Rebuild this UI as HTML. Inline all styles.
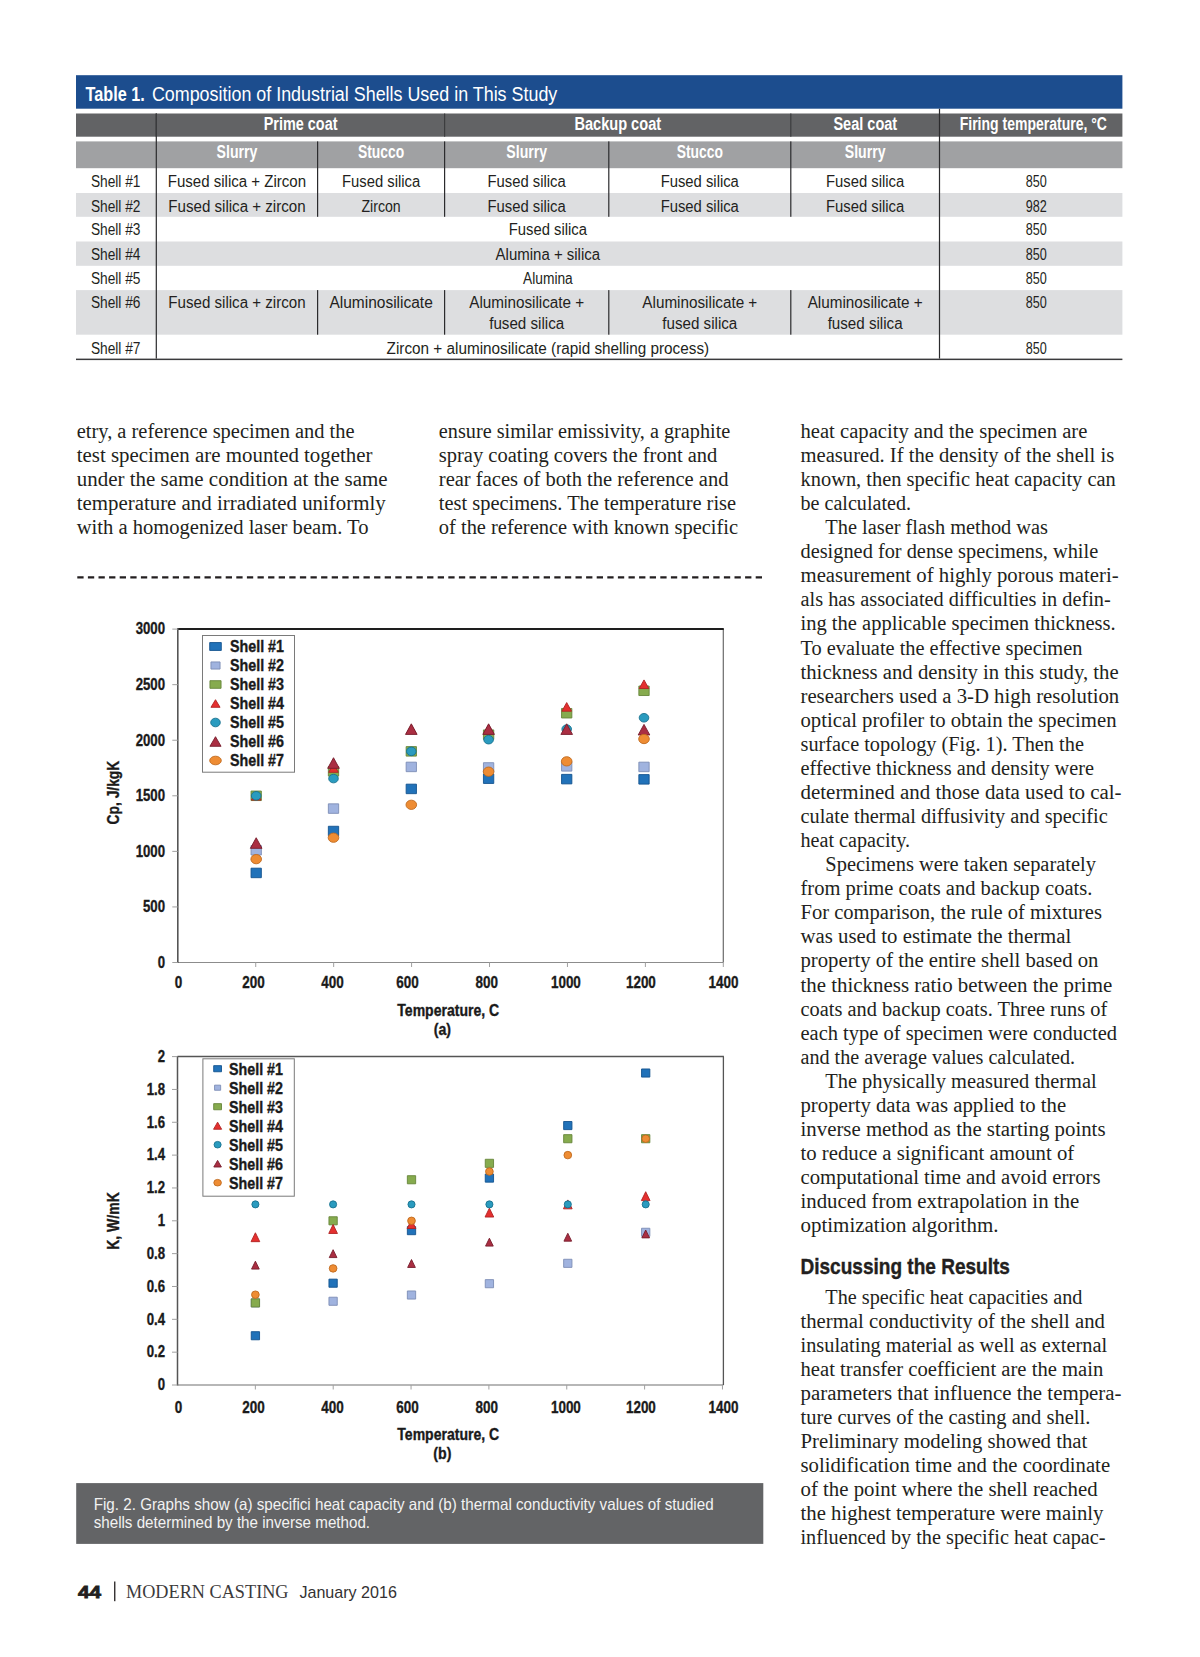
<!DOCTYPE html>
<html><head><meta charset="utf-8"><title>Modern Casting p44</title>
<style>
html,body{margin:0;padding:0;background:#ffffff;}
body{width:1200px;height:1657px;overflow:hidden;}
svg{display:block;}
.se{font-family:"Liberation Serif",serif;}
.sa{font-family:"Liberation Sans",sans-serif;}
.sb{font-family:"Liberation Sans",sans-serif;font-weight:bold;}
</style></head><body>
<svg width="1200" height="1657" viewBox="0 0 1200 1657">
<rect x="0" y="0" width="1200" height="1657" fill="#ffffff"/>
<rect x="76.00" y="75.20" width="1046.40" height="33.50" fill="#1c4d8e"/>
<text class="sb" x="85.60" y="100.80" font-size="20.00" textLength="59.19" lengthAdjust="spacingAndGlyphs" fill="#ffffff">Table 1.</text>
<text class="sa" x="151.90" y="100.80" font-size="20.00" textLength="405.39" lengthAdjust="spacingAndGlyphs" fill="#ffffff">Composition of Industrial Shells Used in This Study</text>
<rect x="76.00" y="113.50" width="1046.40" height="23.20" fill="#626365"/>
<rect x="76.00" y="141.40" width="1046.40" height="26.80" fill="#a0a1a3"/>
<rect x="76.00" y="193.00" width="1046.40" height="23.80" fill="#dddee0"/>
<rect x="76.00" y="241.50" width="1046.40" height="24.30" fill="#dddee0"/>
<rect x="76.00" y="290.10" width="1046.40" height="44.60" fill="#dddee0"/>
<rect x="76.00" y="358.60" width="1046.40" height="1.50" fill="#3a3a3c"/>
<rect x="155.70" y="113.50" width="1.20" height="245.10" fill="#2b2b2d"/>
<rect x="938.90" y="108.70" width="1.20" height="249.90" fill="#2b2b2d"/>
<rect x="444.00" y="113.50" width="1.20" height="23.20" fill="#3c3d3f"/>
<rect x="790.20" y="113.50" width="1.20" height="23.20" fill="#3c3d3f"/>
<rect x="155.70" y="113.50" width="1.20" height="23.20" fill="#3c3d3f"/>
<rect x="317.00" y="141.40" width="1.20" height="75.40" fill="#2b2b2d"/>
<rect x="317.00" y="290.10" width="1.20" height="44.60" fill="#2b2b2d"/>
<rect x="444.00" y="141.40" width="1.20" height="75.40" fill="#2b2b2d"/>
<rect x="444.00" y="290.10" width="1.20" height="44.60" fill="#2b2b2d"/>
<rect x="608.20" y="141.40" width="1.20" height="75.40" fill="#2b2b2d"/>
<rect x="608.20" y="290.10" width="1.20" height="44.60" fill="#2b2b2d"/>
<rect x="790.20" y="141.40" width="1.20" height="75.40" fill="#2b2b2d"/>
<rect x="790.20" y="290.10" width="1.20" height="44.60" fill="#2b2b2d"/>
<text class="sb" x="263.75" y="130.00" font-size="18.00" textLength="73.73" lengthAdjust="spacingAndGlyphs" fill="#ffffff">Prime coat</text>
<text class="sb" x="574.40" y="130.00" font-size="18.00" textLength="86.72" lengthAdjust="spacingAndGlyphs" fill="#ffffff">Backup coat</text>
<text class="sb" x="833.40" y="130.00" font-size="18.00" textLength="63.82" lengthAdjust="spacingAndGlyphs" fill="#ffffff">Seal coat</text>
<text class="sb" x="959.70" y="129.70" font-size="18.00" textLength="147.27" lengthAdjust="spacingAndGlyphs" fill="#ffffff">Firing temperature, °C</text>
<text class="sb" x="216.58" y="157.50" font-size="17.50" textLength="40.75" lengthAdjust="spacingAndGlyphs" fill="#ffffff">Slurry</text>
<text class="sb" x="506.33" y="157.50" font-size="17.50" textLength="40.75" lengthAdjust="spacingAndGlyphs" fill="#ffffff">Slurry</text>
<text class="sb" x="844.77" y="157.50" font-size="17.50" textLength="40.75" lengthAdjust="spacingAndGlyphs" fill="#ffffff">Slurry</text>
<text class="sb" x="357.98" y="157.50" font-size="17.50" textLength="46.24" lengthAdjust="spacingAndGlyphs" fill="#ffffff">Stucco</text>
<text class="sb" x="676.67" y="157.50" font-size="17.50" textLength="46.24" lengthAdjust="spacingAndGlyphs" fill="#ffffff">Stucco</text>
<text class="sa" x="90.90" y="186.70" font-size="16.00" textLength="49.58" lengthAdjust="spacingAndGlyphs" fill="#231f20">Shell #1</text>
<text class="sa" x="90.90" y="211.50" font-size="16.00" textLength="49.58" lengthAdjust="spacingAndGlyphs" fill="#231f20">Shell #2</text>
<text class="sa" x="90.90" y="235.40" font-size="16.00" textLength="49.58" lengthAdjust="spacingAndGlyphs" fill="#231f20">Shell #3</text>
<text class="sa" x="90.90" y="259.60" font-size="16.00" textLength="49.58" lengthAdjust="spacingAndGlyphs" fill="#231f20">Shell #4</text>
<text class="sa" x="90.90" y="284.30" font-size="16.00" textLength="49.58" lengthAdjust="spacingAndGlyphs" fill="#231f20">Shell #5</text>
<text class="sa" x="90.90" y="308.40" font-size="16.00" textLength="49.58" lengthAdjust="spacingAndGlyphs" fill="#231f20">Shell #6</text>
<text class="sa" x="90.90" y="353.70" font-size="16.00" textLength="49.58" lengthAdjust="spacingAndGlyphs" fill="#231f20">Shell #7</text>
<text class="sa" x="167.76" y="186.70" font-size="16.00" textLength="138.35" lengthAdjust="spacingAndGlyphs" fill="#231f20">Fused silica + Zircon</text>
<text class="sa" x="168.31" y="211.50" font-size="16.00" textLength="137.30" lengthAdjust="spacingAndGlyphs" fill="#231f20">Fused silica + zircon</text>
<text class="sa" x="341.96" y="186.70" font-size="16.00" textLength="78.21" lengthAdjust="spacingAndGlyphs" fill="#231f20">Fused silica</text>
<text class="sa" x="361.48" y="211.50" font-size="16.00" textLength="39.22" lengthAdjust="spacingAndGlyphs" fill="#231f20">Zircon</text>
<text class="sa" x="487.56" y="186.70" font-size="16.00" textLength="78.21" lengthAdjust="spacingAndGlyphs" fill="#231f20">Fused silica</text>
<text class="sa" x="487.56" y="211.50" font-size="16.00" textLength="78.21" lengthAdjust="spacingAndGlyphs" fill="#231f20">Fused silica</text>
<text class="sa" x="660.66" y="186.70" font-size="16.00" textLength="78.21" lengthAdjust="spacingAndGlyphs" fill="#231f20">Fused silica</text>
<text class="sa" x="660.66" y="211.50" font-size="16.00" textLength="78.21" lengthAdjust="spacingAndGlyphs" fill="#231f20">Fused silica</text>
<text class="sa" x="826.01" y="186.70" font-size="16.00" textLength="78.21" lengthAdjust="spacingAndGlyphs" fill="#231f20">Fused silica</text>
<text class="sa" x="826.01" y="211.50" font-size="16.00" textLength="78.21" lengthAdjust="spacingAndGlyphs" fill="#231f20">Fused silica</text>
<text class="sa" x="508.76" y="235.40" font-size="16.00" textLength="78.21" lengthAdjust="spacingAndGlyphs" fill="#231f20">Fused silica</text>
<text class="sa" x="495.62" y="259.60" font-size="16.00" textLength="104.49" lengthAdjust="spacingAndGlyphs" fill="#231f20">Alumina + silica</text>
<text class="sa" x="523.01" y="284.30" font-size="16.00" textLength="49.76" lengthAdjust="spacingAndGlyphs" fill="#231f20">Alumina</text>
<text class="sa" x="168.31" y="308.40" font-size="16.00" textLength="137.30" lengthAdjust="spacingAndGlyphs" fill="#231f20">Fused silica + zircon</text>
<text class="sa" x="329.40" y="308.40" font-size="16.00" textLength="103.40" lengthAdjust="spacingAndGlyphs" fill="#231f20">Aluminosilicate</text>
<text class="sa" x="469.25" y="308.40" font-size="16.00" textLength="114.92" lengthAdjust="spacingAndGlyphs" fill="#231f20">Aluminosilicate +</text>
<text class="sa" x="489.18" y="328.50" font-size="16.00" textLength="75.00" lengthAdjust="spacingAndGlyphs" fill="#231f20">fused silica</text>
<text class="sa" x="642.35" y="308.40" font-size="16.00" textLength="114.92" lengthAdjust="spacingAndGlyphs" fill="#231f20">Aluminosilicate +</text>
<text class="sa" x="662.28" y="328.50" font-size="16.00" textLength="75.00" lengthAdjust="spacingAndGlyphs" fill="#231f20">fused silica</text>
<text class="sa" x="807.70" y="308.40" font-size="16.00" textLength="114.92" lengthAdjust="spacingAndGlyphs" fill="#231f20">Aluminosilicate +</text>
<text class="sa" x="827.63" y="328.50" font-size="16.00" textLength="75.00" lengthAdjust="spacingAndGlyphs" fill="#231f20">fused silica</text>
<text class="sa" x="386.60" y="353.70" font-size="16.00" textLength="322.56" lengthAdjust="spacingAndGlyphs" fill="#231f20">Zircon + aluminosilicate (rapid shelling process)</text>
<text class="sa" x="1025.65" y="186.70" font-size="16.00" textLength="21.08" lengthAdjust="spacingAndGlyphs" fill="#231f20">850</text>
<text class="sa" x="1025.65" y="211.50" font-size="16.00" textLength="21.08" lengthAdjust="spacingAndGlyphs" fill="#231f20">982</text>
<text class="sa" x="1025.65" y="235.40" font-size="16.00" textLength="21.08" lengthAdjust="spacingAndGlyphs" fill="#231f20">850</text>
<text class="sa" x="1025.65" y="259.60" font-size="16.00" textLength="21.08" lengthAdjust="spacingAndGlyphs" fill="#231f20">850</text>
<text class="sa" x="1025.65" y="284.30" font-size="16.00" textLength="21.08" lengthAdjust="spacingAndGlyphs" fill="#231f20">850</text>
<text class="sa" x="1025.65" y="308.40" font-size="16.00" textLength="21.08" lengthAdjust="spacingAndGlyphs" fill="#231f20">850</text>
<text class="sa" x="1025.65" y="353.70" font-size="16.00" textLength="21.08" lengthAdjust="spacingAndGlyphs" fill="#231f20">850</text>
<text class="se" x="76.70" y="437.90" font-size="20.50" textLength="277.87" lengthAdjust="spacingAndGlyphs" fill="#231f20">etry, a reference specimen and the</text>
<text class="se" x="76.70" y="461.97" font-size="20.50" textLength="295.83" lengthAdjust="spacingAndGlyphs" fill="#231f20">test specimen are mounted together</text>
<text class="se" x="76.70" y="486.04" font-size="20.50" textLength="310.96" lengthAdjust="spacingAndGlyphs" fill="#231f20">under the same condition at the same</text>
<text class="se" x="76.70" y="510.11" font-size="20.50" textLength="308.98" lengthAdjust="spacingAndGlyphs" fill="#231f20">temperature and irradiated uniformly</text>
<text class="se" x="76.70" y="534.18" font-size="20.50" textLength="291.80" lengthAdjust="spacingAndGlyphs" fill="#231f20">with a homogenized laser beam. To</text>
<text class="se" x="438.80" y="437.90" font-size="20.50" textLength="291.47" lengthAdjust="spacingAndGlyphs" fill="#231f20">ensure similar emissivity, a graphite</text>
<text class="se" x="438.80" y="461.97" font-size="20.50" textLength="278.57" lengthAdjust="spacingAndGlyphs" fill="#231f20">spray coating covers the front and</text>
<text class="se" x="438.80" y="486.04" font-size="20.50" textLength="289.64" lengthAdjust="spacingAndGlyphs" fill="#231f20">rear faces of both the reference and</text>
<text class="se" x="438.80" y="510.11" font-size="20.50" textLength="297.29" lengthAdjust="spacingAndGlyphs" fill="#231f20">test specimens. The temperature rise</text>
<text class="se" x="438.80" y="534.18" font-size="20.50" textLength="299.25" lengthAdjust="spacingAndGlyphs" fill="#231f20">of the reference with known specific</text>
<text class="se" x="800.50" y="437.90" font-size="20.50" textLength="286.88" lengthAdjust="spacingAndGlyphs" fill="#231f20">heat capacity and the specimen are</text>
<text class="se" x="800.50" y="461.97" font-size="20.50" textLength="313.66" lengthAdjust="spacingAndGlyphs" fill="#231f20">measured. If the density of the shell is</text>
<text class="se" x="800.50" y="486.04" font-size="20.50" textLength="315.24" lengthAdjust="spacingAndGlyphs" fill="#231f20">known, then specific heat capacity can</text>
<text class="se" x="800.50" y="510.11" font-size="20.50" textLength="110.53" lengthAdjust="spacingAndGlyphs" fill="#231f20">be calculated.</text>
<text class="se" x="825.30" y="534.18" font-size="20.50" textLength="222.72" lengthAdjust="spacingAndGlyphs" fill="#231f20">The laser flash method was</text>
<text class="se" x="800.50" y="558.25" font-size="20.50" textLength="297.69" lengthAdjust="spacingAndGlyphs" fill="#231f20">designed for dense specimens, while</text>
<text class="se" x="800.50" y="582.32" font-size="20.50" textLength="318.08" lengthAdjust="spacingAndGlyphs" fill="#231f20">measurement of highly porous materi-</text>
<text class="se" x="800.50" y="606.39" font-size="20.50" textLength="310.25" lengthAdjust="spacingAndGlyphs" fill="#231f20">als has associated difficulties in defin-</text>
<text class="se" x="800.50" y="630.46" font-size="20.50" textLength="315.22" lengthAdjust="spacingAndGlyphs" fill="#231f20">ing the applicable specimen thickness.</text>
<text class="se" x="800.50" y="654.53" font-size="20.50" textLength="281.88" lengthAdjust="spacingAndGlyphs" fill="#231f20">To evaluate the effective specimen</text>
<text class="se" x="800.50" y="678.60" font-size="20.50" textLength="318.10" lengthAdjust="spacingAndGlyphs" fill="#231f20">thickness and density in this study, the</text>
<text class="se" x="800.50" y="702.67" font-size="20.50" textLength="318.72" lengthAdjust="spacingAndGlyphs" fill="#231f20">researchers used a 3-D high resolution</text>
<text class="se" x="800.50" y="726.74" font-size="20.50" textLength="316.00" lengthAdjust="spacingAndGlyphs" fill="#231f20">optical profiler to obtain the specimen</text>
<text class="se" x="800.50" y="750.81" font-size="20.50" textLength="283.41" lengthAdjust="spacingAndGlyphs" fill="#231f20">surface topology (Fig. 1). Then the</text>
<text class="se" x="800.50" y="774.88" font-size="20.50" textLength="293.52" lengthAdjust="spacingAndGlyphs" fill="#231f20">effective thickness and density were</text>
<text class="se" x="800.50" y="798.95" font-size="20.50" textLength="321.05" lengthAdjust="spacingAndGlyphs" fill="#231f20">determined and those data used to cal-</text>
<text class="se" x="800.50" y="823.02" font-size="20.50" textLength="307.26" lengthAdjust="spacingAndGlyphs" fill="#231f20">culate thermal diffusivity and specific</text>
<text class="se" x="800.50" y="847.09" font-size="20.50" textLength="109.53" lengthAdjust="spacingAndGlyphs" fill="#231f20">heat capacity.</text>
<text class="se" x="825.30" y="871.16" font-size="20.50" textLength="270.68" lengthAdjust="spacingAndGlyphs" fill="#231f20">Specimens were taken separately</text>
<text class="se" x="800.50" y="895.23" font-size="20.50" textLength="291.84" lengthAdjust="spacingAndGlyphs" fill="#231f20">from prime coats and backup coats.</text>
<text class="se" x="800.50" y="919.30" font-size="20.50" textLength="301.47" lengthAdjust="spacingAndGlyphs" fill="#231f20">For comparison, the rule of mixtures</text>
<text class="se" x="800.50" y="943.37" font-size="20.50" textLength="270.77" lengthAdjust="spacingAndGlyphs" fill="#231f20">was used to estimate the thermal</text>
<text class="se" x="800.50" y="967.44" font-size="20.50" textLength="297.98" lengthAdjust="spacingAndGlyphs" fill="#231f20">property of the entire shell based on</text>
<text class="se" x="800.50" y="991.51" font-size="20.50" textLength="311.73" lengthAdjust="spacingAndGlyphs" fill="#231f20">the thickness ratio between the prime</text>
<text class="se" x="800.50" y="1015.58" font-size="20.50" textLength="306.69" lengthAdjust="spacingAndGlyphs" fill="#231f20">coats and backup coats. Three runs of</text>
<text class="se" x="800.50" y="1039.65" font-size="20.50" textLength="316.59" lengthAdjust="spacingAndGlyphs" fill="#231f20">each type of specimen were conducted</text>
<text class="se" x="800.50" y="1063.72" font-size="20.50" textLength="274.62" lengthAdjust="spacingAndGlyphs" fill="#231f20">and the average values calculated.</text>
<text class="se" x="825.30" y="1087.79" font-size="20.50" textLength="271.41" lengthAdjust="spacingAndGlyphs" fill="#231f20">The physically measured thermal</text>
<text class="se" x="800.50" y="1111.86" font-size="20.50" textLength="265.62" lengthAdjust="spacingAndGlyphs" fill="#231f20">property data was applied to the</text>
<text class="se" x="800.50" y="1135.93" font-size="20.50" textLength="305.02" lengthAdjust="spacingAndGlyphs" fill="#231f20">inverse method as the starting points</text>
<text class="se" x="800.50" y="1160.00" font-size="20.50" textLength="273.70" lengthAdjust="spacingAndGlyphs" fill="#231f20">to reduce a significant amount of</text>
<text class="se" x="800.50" y="1184.07" font-size="20.50" textLength="300.01" lengthAdjust="spacingAndGlyphs" fill="#231f20">computational time and avoid errors</text>
<text class="se" x="800.50" y="1208.14" font-size="20.50" textLength="278.69" lengthAdjust="spacingAndGlyphs" fill="#231f20">induced from extrapolation in the</text>
<text class="se" x="800.50" y="1232.21" font-size="20.50" textLength="197.95" lengthAdjust="spacingAndGlyphs" fill="#231f20">optimization algorithm.</text>
<text class="sb" x="800.50" y="1274.40" font-size="22.00" textLength="209.47" lengthAdjust="spacingAndGlyphs" fill="#231f20" stroke="#231f20" stroke-width="0.4">Discussing the Results</text>
<text class="se" x="825.30" y="1303.50" font-size="20.50" textLength="257.10" lengthAdjust="spacingAndGlyphs" fill="#231f20">The specific heat capacities and</text>
<text class="se" x="800.50" y="1327.57" font-size="20.50" textLength="304.40" lengthAdjust="spacingAndGlyphs" fill="#231f20">thermal conductivity of the shell and</text>
<text class="se" x="800.50" y="1351.64" font-size="20.50" textLength="306.65" lengthAdjust="spacingAndGlyphs" fill="#231f20">insulating material as well as external</text>
<text class="se" x="800.50" y="1375.71" font-size="20.50" textLength="302.85" lengthAdjust="spacingAndGlyphs" fill="#231f20">heat transfer coefficient are the main</text>
<text class="se" x="800.50" y="1399.78" font-size="20.50" textLength="321.01" lengthAdjust="spacingAndGlyphs" fill="#231f20">parameters that influence the tempera-</text>
<text class="se" x="800.50" y="1423.85" font-size="20.50" textLength="289.78" lengthAdjust="spacingAndGlyphs" fill="#231f20">ture curves of the casting and shell.</text>
<text class="se" x="800.50" y="1447.92" font-size="20.50" textLength="286.86" lengthAdjust="spacingAndGlyphs" fill="#231f20">Preliminary modeling showed that</text>
<text class="se" x="800.50" y="1471.99" font-size="20.50" textLength="309.59" lengthAdjust="spacingAndGlyphs" fill="#231f20">solidification time and the coordinate</text>
<text class="se" x="800.50" y="1496.06" font-size="20.50" textLength="297.14" lengthAdjust="spacingAndGlyphs" fill="#231f20">of the point where the shell reached</text>
<text class="se" x="800.50" y="1520.13" font-size="20.50" textLength="302.90" lengthAdjust="spacingAndGlyphs" fill="#231f20">the highest temperature were mainly</text>
<text class="se" x="800.50" y="1544.20" font-size="20.50" textLength="305.00" lengthAdjust="spacingAndGlyphs" fill="#231f20">influenced by the specific heat capac-</text>
<line x1="77.3" y1="577.4" x2="763" y2="577.4" stroke="#231f20" stroke-width="2.3" stroke-dasharray="6.3 4.3"/>
<rect x="177.80" y="629.10" width="545.50" height="333.40" fill="#ffffff"/>
<line x1="177.80" y1="962.50" x2="723.30" y2="962.50" stroke="#8c8c8c" stroke-width="1.20"/>
<line x1="723.30" y1="629.10" x2="723.30" y2="962.50" stroke="#6a6a6a" stroke-width="1.20"/>
<line x1="177.80" y1="629.10" x2="723.80" y2="629.10" stroke="#1e1e1e" stroke-width="2.00"/>
<line x1="177.80" y1="628.10" x2="177.80" y2="963.00" stroke="#555555" stroke-width="1.60"/>
<line x1="172.30" y1="962.50" x2="177.80" y2="962.50" stroke="#a0a0a0" stroke-width="1.00"/>
<text class="sb" x="157.67" y="967.80" font-size="16.50" textLength="7.34" lengthAdjust="spacingAndGlyphs" fill="#1a1a1a" stroke="#1a1a1a" stroke-width="0.35">0</text>
<line x1="172.30" y1="906.93" x2="177.80" y2="906.93" stroke="#a0a0a0" stroke-width="1.00"/>
<text class="sb" x="142.96" y="912.23" font-size="16.50" textLength="22.02" lengthAdjust="spacingAndGlyphs" fill="#1a1a1a" stroke="#1a1a1a" stroke-width="0.35">500</text>
<line x1="172.30" y1="851.37" x2="177.80" y2="851.37" stroke="#a0a0a0" stroke-width="1.00"/>
<text class="sb" x="135.63" y="856.67" font-size="16.50" textLength="29.37" lengthAdjust="spacingAndGlyphs" fill="#1a1a1a" stroke="#1a1a1a" stroke-width="0.35">1000</text>
<line x1="172.30" y1="795.80" x2="177.80" y2="795.80" stroke="#a0a0a0" stroke-width="1.00"/>
<text class="sb" x="135.63" y="801.10" font-size="16.50" textLength="29.37" lengthAdjust="spacingAndGlyphs" fill="#1a1a1a" stroke="#1a1a1a" stroke-width="0.35">1500</text>
<line x1="172.30" y1="740.23" x2="177.80" y2="740.23" stroke="#a0a0a0" stroke-width="1.00"/>
<text class="sb" x="135.63" y="745.53" font-size="16.50" textLength="29.37" lengthAdjust="spacingAndGlyphs" fill="#1a1a1a" stroke="#1a1a1a" stroke-width="0.35">2000</text>
<line x1="172.30" y1="684.67" x2="177.80" y2="684.67" stroke="#a0a0a0" stroke-width="1.00"/>
<text class="sb" x="135.63" y="689.97" font-size="16.50" textLength="29.37" lengthAdjust="spacingAndGlyphs" fill="#1a1a1a" stroke="#1a1a1a" stroke-width="0.35">2500</text>
<line x1="172.30" y1="629.10" x2="177.80" y2="629.10" stroke="#a0a0a0" stroke-width="1.00"/>
<text class="sb" x="135.63" y="634.40" font-size="16.50" textLength="29.37" lengthAdjust="spacingAndGlyphs" fill="#1a1a1a" stroke="#1a1a1a" stroke-width="0.35">3000</text>
<text class="sb" x="174.77" y="987.50" font-size="16.50" textLength="7.48" lengthAdjust="spacingAndGlyphs" fill="#1a1a1a" stroke="#1a1a1a" stroke-width="0.35">0</text>
<line x1="255.73" y1="962.50" x2="255.73" y2="967.00" stroke="#a0a0a0" stroke-width="1.00"/>
<text class="sb" x="242.27" y="987.50" font-size="16.50" textLength="22.44" lengthAdjust="spacingAndGlyphs" fill="#1a1a1a" stroke="#1a1a1a" stroke-width="0.35">200</text>
<line x1="333.66" y1="962.50" x2="333.66" y2="967.00" stroke="#a0a0a0" stroke-width="1.00"/>
<text class="sb" x="321.37" y="987.50" font-size="16.50" textLength="22.44" lengthAdjust="spacingAndGlyphs" fill="#1a1a1a" stroke="#1a1a1a" stroke-width="0.35">400</text>
<line x1="411.59" y1="962.50" x2="411.59" y2="967.00" stroke="#a0a0a0" stroke-width="1.00"/>
<text class="sb" x="396.27" y="987.50" font-size="16.50" textLength="22.44" lengthAdjust="spacingAndGlyphs" fill="#1a1a1a" stroke="#1a1a1a" stroke-width="0.35">600</text>
<line x1="489.52" y1="962.50" x2="489.52" y2="967.00" stroke="#a0a0a0" stroke-width="1.00"/>
<text class="sb" x="475.52" y="987.50" font-size="16.50" textLength="22.44" lengthAdjust="spacingAndGlyphs" fill="#1a1a1a" stroke="#1a1a1a" stroke-width="0.35">800</text>
<line x1="567.45" y1="962.50" x2="567.45" y2="967.00" stroke="#a0a0a0" stroke-width="1.00"/>
<text class="sb" x="550.94" y="987.50" font-size="16.50" textLength="29.92" lengthAdjust="spacingAndGlyphs" fill="#1a1a1a" stroke="#1a1a1a" stroke-width="0.35">1000</text>
<line x1="645.38" y1="962.50" x2="645.38" y2="967.00" stroke="#a0a0a0" stroke-width="1.00"/>
<text class="sb" x="625.94" y="987.50" font-size="16.50" textLength="29.92" lengthAdjust="spacingAndGlyphs" fill="#1a1a1a" stroke="#1a1a1a" stroke-width="0.35">1200</text>
<line x1="723.31" y1="962.50" x2="723.31" y2="967.00" stroke="#a0a0a0" stroke-width="1.00"/>
<text class="sb" x="708.54" y="987.50" font-size="16.50" textLength="29.92" lengthAdjust="spacingAndGlyphs" fill="#1a1a1a" stroke="#1a1a1a" stroke-width="0.35">1400</text>
<text class="sb" x="397.30" y="1015.90" font-size="16.00" textLength="101.92" lengthAdjust="spacingAndGlyphs" fill="#1a1a1a" stroke="#1a1a1a" stroke-width="0.35">Temperature, C</text>
<text class="sb" x="433.74" y="1035.10" font-size="16.50" textLength="17.34" lengthAdjust="spacingAndGlyphs" fill="#1a1a1a" stroke="#1a1a1a" stroke-width="0.35">(a)</text>
<text class="sb" transform="translate(118.90 824.40) rotate(-90)" x="-0.00" y="0" font-size="16" textLength="63.63" lengthAdjust="spacingAndGlyphs" fill="#1a1a1a" stroke="#1a1a1a" stroke-width="0.35">Cp, J/kgK</text>
<rect x="251.05" y="868.18" width="10.30" height="9.50" fill="#2172b9" stroke="#14548f" stroke-width="0.90" stroke-linejoin="round"/>
<rect x="328.35" y="826.28" width="10.30" height="9.50" fill="#2172b9" stroke="#14548f" stroke-width="0.90" stroke-linejoin="round"/>
<rect x="406.15" y="784.16" width="10.30" height="9.50" fill="#2172b9" stroke="#14548f" stroke-width="0.90" stroke-linejoin="round"/>
<rect x="483.45" y="773.94" width="10.30" height="9.50" fill="#2172b9" stroke="#14548f" stroke-width="0.90" stroke-linejoin="round"/>
<rect x="561.55" y="774.38" width="10.30" height="9.50" fill="#2172b9" stroke="#14548f" stroke-width="0.90" stroke-linejoin="round"/>
<rect x="638.85" y="774.60" width="10.30" height="9.50" fill="#2172b9" stroke="#14548f" stroke-width="0.90" stroke-linejoin="round"/>
<rect x="251.05" y="845.51" width="10.30" height="9.50" fill="#a0b3df" stroke="#7d8db6" stroke-width="0.90" stroke-linejoin="round"/>
<rect x="328.35" y="803.83" width="10.30" height="9.50" fill="#a0b3df" stroke="#7d8db6" stroke-width="0.90" stroke-linejoin="round"/>
<rect x="406.15" y="762.16" width="10.30" height="9.50" fill="#a0b3df" stroke="#7d8db6" stroke-width="0.90" stroke-linejoin="round"/>
<rect x="483.45" y="762.71" width="10.30" height="9.50" fill="#a0b3df" stroke="#7d8db6" stroke-width="0.90" stroke-linejoin="round"/>
<rect x="561.55" y="761.60" width="10.30" height="9.50" fill="#a0b3df" stroke="#7d8db6" stroke-width="0.90" stroke-linejoin="round"/>
<rect x="638.85" y="762.16" width="10.30" height="9.50" fill="#a0b3df" stroke="#7d8db6" stroke-width="0.90" stroke-linejoin="round"/>
<rect x="251.05" y="791.05" width="10.30" height="9.50" fill="#86ab4e" stroke="#66863a" stroke-width="0.90" stroke-linejoin="round"/>
<rect x="328.35" y="766.60" width="10.30" height="9.50" fill="#86ab4e" stroke="#66863a" stroke-width="0.90" stroke-linejoin="round"/>
<rect x="406.15" y="746.60" width="10.30" height="9.50" fill="#86ab4e" stroke="#66863a" stroke-width="0.90" stroke-linejoin="round"/>
<rect x="483.45" y="729.93" width="10.30" height="9.50" fill="#86ab4e" stroke="#66863a" stroke-width="0.90" stroke-linejoin="round"/>
<rect x="561.55" y="708.48" width="10.30" height="9.50" fill="#86ab4e" stroke="#66863a" stroke-width="0.90" stroke-linejoin="round"/>
<rect x="638.85" y="686.03" width="10.30" height="9.50" fill="#86ab4e" stroke="#66863a" stroke-width="0.90" stroke-linejoin="round"/>
<polygon points="256.20,791.50 261.00,800.10 251.40,800.10" fill="#e4302f" stroke="#b02222" stroke-width="0.90" stroke-linejoin="round"/>
<polygon points="333.50,763.72 338.30,772.32 328.70,772.32" fill="#e4302f" stroke="#b02222" stroke-width="0.90" stroke-linejoin="round"/>
<polygon points="411.30,724.82 416.10,733.42 406.50,733.42" fill="#e4302f" stroke="#b02222" stroke-width="0.90" stroke-linejoin="round"/>
<polygon points="488.60,724.82 493.40,733.42 483.80,733.42" fill="#e4302f" stroke="#b02222" stroke-width="0.90" stroke-linejoin="round"/>
<polygon points="566.70,702.59 571.50,711.19 561.90,711.19" fill="#e4302f" stroke="#b02222" stroke-width="0.90" stroke-linejoin="round"/>
<polygon points="644.00,679.92 648.80,688.52 639.20,688.52" fill="#e4302f" stroke="#b02222" stroke-width="0.90" stroke-linejoin="round"/>
<ellipse cx="256.20" cy="795.80" rx="4.80" ry="4.30" fill="#2a9bbf" stroke="#18728f" stroke-width="0.90" stroke-linejoin="round"/>
<ellipse cx="333.50" cy="778.57" rx="4.80" ry="4.30" fill="#2a9bbf" stroke="#18728f" stroke-width="0.90" stroke-linejoin="round"/>
<ellipse cx="411.30" cy="751.35" rx="4.80" ry="4.30" fill="#2a9bbf" stroke="#18728f" stroke-width="0.90" stroke-linejoin="round"/>
<ellipse cx="488.60" cy="739.68" rx="4.80" ry="4.30" fill="#2a9bbf" stroke="#18728f" stroke-width="0.90" stroke-linejoin="round"/>
<ellipse cx="566.70" cy="729.12" rx="4.80" ry="4.30" fill="#2a9bbf" stroke="#18728f" stroke-width="0.90" stroke-linejoin="round"/>
<ellipse cx="644.00" cy="717.78" rx="4.80" ry="4.30" fill="#2a9bbf" stroke="#18728f" stroke-width="0.90" stroke-linejoin="round"/>
<polygon points="256.20,837.73 262.00,848.33 250.40,848.33" fill="#aa2e42" stroke="#761c2b" stroke-width="0.90" stroke-linejoin="round"/>
<polygon points="333.50,757.72 339.30,768.32 327.70,768.32" fill="#aa2e42" stroke="#761c2b" stroke-width="0.90" stroke-linejoin="round"/>
<polygon points="411.30,723.82 417.10,734.42 405.50,734.42" fill="#aa2e42" stroke="#761c2b" stroke-width="0.90" stroke-linejoin="round"/>
<polygon points="488.60,723.82 494.40,734.42 482.80,734.42" fill="#aa2e42" stroke="#761c2b" stroke-width="0.90" stroke-linejoin="round"/>
<polygon points="566.70,723.82 572.50,734.42 560.90,734.42" fill="#aa2e42" stroke="#761c2b" stroke-width="0.90" stroke-linejoin="round"/>
<polygon points="644.00,724.38 649.80,734.98 638.20,734.98" fill="#aa2e42" stroke="#761c2b" stroke-width="0.90" stroke-linejoin="round"/>
<ellipse cx="256.20" cy="859.15" rx="5.30" ry="4.65" fill="#ee8c33" stroke="#c06a1e" stroke-width="0.90" stroke-linejoin="round"/>
<ellipse cx="333.50" cy="837.70" rx="5.30" ry="4.65" fill="#ee8c33" stroke="#c06a1e" stroke-width="0.90" stroke-linejoin="round"/>
<ellipse cx="411.30" cy="804.80" rx="5.30" ry="4.65" fill="#ee8c33" stroke="#c06a1e" stroke-width="0.90" stroke-linejoin="round"/>
<ellipse cx="488.60" cy="771.68" rx="5.30" ry="4.65" fill="#ee8c33" stroke="#c06a1e" stroke-width="0.90" stroke-linejoin="round"/>
<ellipse cx="566.70" cy="761.35" rx="5.30" ry="4.65" fill="#ee8c33" stroke="#c06a1e" stroke-width="0.90" stroke-linejoin="round"/>
<ellipse cx="644.00" cy="739.01" rx="5.30" ry="4.65" fill="#ee8c33" stroke="#c06a1e" stroke-width="0.90" stroke-linejoin="round"/>
<rect x="202.50" y="635.50" width="92.00" height="136.70" fill="#ffffff" stroke="#7a7a7a" stroke-width="1"/>
<rect x="209.70" y="642.55" width="11.60" height="7.90" fill="#2172b9" stroke="#14548f" stroke-width="0.90" stroke-linejoin="round"/>
<text class="sb" x="230.00" y="652.30" font-size="16.00" textLength="54.00" lengthAdjust="spacingAndGlyphs" fill="#1a1a1a" stroke="#1a1a1a" stroke-width="0.35">Shell #1</text>
<rect x="210.95" y="661.95" width="9.10" height="7.10" fill="#a0b3df" stroke="#7d8db6" stroke-width="0.90" stroke-linejoin="round"/>
<text class="sb" x="230.00" y="671.30" font-size="16.00" textLength="54.00" lengthAdjust="spacingAndGlyphs" fill="#1a1a1a" stroke="#1a1a1a" stroke-width="0.35">Shell #2</text>
<rect x="209.95" y="680.70" width="11.10" height="7.60" fill="#86ab4e" stroke="#66863a" stroke-width="0.90" stroke-linejoin="round"/>
<text class="sb" x="230.00" y="690.30" font-size="16.00" textLength="54.00" lengthAdjust="spacingAndGlyphs" fill="#1a1a1a" stroke="#1a1a1a" stroke-width="0.35">Shell #3</text>
<polygon points="215.50,699.70 220.05,707.30 210.95,707.30" fill="#e4302f" stroke="#b02222" stroke-width="0.90" stroke-linejoin="round"/>
<text class="sb" x="230.00" y="709.30" font-size="16.00" textLength="54.00" lengthAdjust="spacingAndGlyphs" fill="#1a1a1a" stroke="#1a1a1a" stroke-width="0.35">Shell #4</text>
<ellipse cx="215.50" cy="722.50" rx="4.80" ry="4.30" fill="#2a9bbf" stroke="#18728f" stroke-width="0.90" stroke-linejoin="round"/>
<text class="sb" x="230.00" y="728.30" font-size="16.00" textLength="54.00" lengthAdjust="spacingAndGlyphs" fill="#1a1a1a" stroke="#1a1a1a" stroke-width="0.35">Shell #5</text>
<polygon points="215.50,736.70 221.05,746.30 209.95,746.30" fill="#aa2e42" stroke="#761c2b" stroke-width="0.90" stroke-linejoin="round"/>
<text class="sb" x="230.00" y="747.30" font-size="16.00" textLength="54.00" lengthAdjust="spacingAndGlyphs" fill="#1a1a1a" stroke="#1a1a1a" stroke-width="0.35">Shell #6</text>
<ellipse cx="215.50" cy="760.50" rx="5.80" ry="4.30" fill="#ee8c33" stroke="#c06a1e" stroke-width="0.90" stroke-linejoin="round"/>
<text class="sb" x="230.00" y="766.30" font-size="16.00" textLength="54.00" lengthAdjust="spacingAndGlyphs" fill="#1a1a1a" stroke="#1a1a1a" stroke-width="0.35">Shell #7</text>
<rect x="177.50" y="1056.60" width="545.90" height="328.40" fill="#ffffff"/>
<line x1="177.50" y1="1385.00" x2="723.40" y2="1385.00" stroke="#707070" stroke-width="1.20"/>
<line x1="723.40" y1="1056.60" x2="723.40" y2="1385.00" stroke="#555555" stroke-width="1.30"/>
<line x1="177.50" y1="1056.60" x2="723.90" y2="1056.60" stroke="#555555" stroke-width="1.50"/>
<line x1="177.50" y1="1056.10" x2="177.50" y2="1385.50" stroke="#555555" stroke-width="1.50"/>
<line x1="172.00" y1="1385.00" x2="177.50" y2="1385.00" stroke="#a0a0a0" stroke-width="1.00"/>
<text class="sb" x="157.67" y="1390.30" font-size="16.50" textLength="7.34" lengthAdjust="spacingAndGlyphs" fill="#1a1a1a" stroke="#1a1a1a" stroke-width="0.35">0</text>
<line x1="172.00" y1="1352.16" x2="177.50" y2="1352.16" stroke="#a0a0a0" stroke-width="1.00"/>
<text class="sb" x="146.65" y="1357.46" font-size="16.50" textLength="18.35" lengthAdjust="spacingAndGlyphs" fill="#1a1a1a" stroke="#1a1a1a" stroke-width="0.35">0.2</text>
<line x1="172.00" y1="1319.32" x2="177.50" y2="1319.32" stroke="#a0a0a0" stroke-width="1.00"/>
<text class="sb" x="146.65" y="1324.62" font-size="16.50" textLength="18.35" lengthAdjust="spacingAndGlyphs" fill="#1a1a1a" stroke="#1a1a1a" stroke-width="0.35">0.4</text>
<line x1="172.00" y1="1286.48" x2="177.50" y2="1286.48" stroke="#a0a0a0" stroke-width="1.00"/>
<text class="sb" x="146.65" y="1291.78" font-size="16.50" textLength="18.35" lengthAdjust="spacingAndGlyphs" fill="#1a1a1a" stroke="#1a1a1a" stroke-width="0.35">0.6</text>
<line x1="172.00" y1="1253.64" x2="177.50" y2="1253.64" stroke="#a0a0a0" stroke-width="1.00"/>
<text class="sb" x="146.65" y="1258.94" font-size="16.50" textLength="18.35" lengthAdjust="spacingAndGlyphs" fill="#1a1a1a" stroke="#1a1a1a" stroke-width="0.35">0.8</text>
<line x1="172.00" y1="1220.80" x2="177.50" y2="1220.80" stroke="#a0a0a0" stroke-width="1.00"/>
<text class="sb" x="157.67" y="1226.10" font-size="16.50" textLength="7.34" lengthAdjust="spacingAndGlyphs" fill="#1a1a1a" stroke="#1a1a1a" stroke-width="0.35">1</text>
<line x1="172.00" y1="1187.96" x2="177.50" y2="1187.96" stroke="#a0a0a0" stroke-width="1.00"/>
<text class="sb" x="146.65" y="1193.26" font-size="16.50" textLength="18.35" lengthAdjust="spacingAndGlyphs" fill="#1a1a1a" stroke="#1a1a1a" stroke-width="0.35">1.2</text>
<line x1="172.00" y1="1155.12" x2="177.50" y2="1155.12" stroke="#a0a0a0" stroke-width="1.00"/>
<text class="sb" x="146.65" y="1160.42" font-size="16.50" textLength="18.35" lengthAdjust="spacingAndGlyphs" fill="#1a1a1a" stroke="#1a1a1a" stroke-width="0.35">1.4</text>
<line x1="172.00" y1="1122.28" x2="177.50" y2="1122.28" stroke="#a0a0a0" stroke-width="1.00"/>
<text class="sb" x="146.65" y="1127.58" font-size="16.50" textLength="18.35" lengthAdjust="spacingAndGlyphs" fill="#1a1a1a" stroke="#1a1a1a" stroke-width="0.35">1.6</text>
<line x1="172.00" y1="1089.44" x2="177.50" y2="1089.44" stroke="#a0a0a0" stroke-width="1.00"/>
<text class="sb" x="146.65" y="1094.74" font-size="16.50" textLength="18.35" lengthAdjust="spacingAndGlyphs" fill="#1a1a1a" stroke="#1a1a1a" stroke-width="0.35">1.8</text>
<line x1="172.00" y1="1056.60" x2="177.50" y2="1056.60" stroke="#a0a0a0" stroke-width="1.00"/>
<text class="sb" x="157.67" y="1061.90" font-size="16.50" textLength="7.34" lengthAdjust="spacingAndGlyphs" fill="#1a1a1a" stroke="#1a1a1a" stroke-width="0.35">2</text>
<text class="sb" x="174.77" y="1412.50" font-size="16.50" textLength="7.48" lengthAdjust="spacingAndGlyphs" fill="#1a1a1a" stroke="#1a1a1a" stroke-width="0.35">0</text>
<line x1="255.35" y1="1385.00" x2="255.35" y2="1389.50" stroke="#a0a0a0" stroke-width="1.00"/>
<text class="sb" x="242.27" y="1412.50" font-size="16.50" textLength="22.44" lengthAdjust="spacingAndGlyphs" fill="#1a1a1a" stroke="#1a1a1a" stroke-width="0.35">200</text>
<line x1="333.20" y1="1385.00" x2="333.20" y2="1389.50" stroke="#a0a0a0" stroke-width="1.00"/>
<text class="sb" x="321.37" y="1412.50" font-size="16.50" textLength="22.44" lengthAdjust="spacingAndGlyphs" fill="#1a1a1a" stroke="#1a1a1a" stroke-width="0.35">400</text>
<line x1="411.05" y1="1385.00" x2="411.05" y2="1389.50" stroke="#a0a0a0" stroke-width="1.00"/>
<text class="sb" x="396.27" y="1412.50" font-size="16.50" textLength="22.44" lengthAdjust="spacingAndGlyphs" fill="#1a1a1a" stroke="#1a1a1a" stroke-width="0.35">600</text>
<line x1="488.90" y1="1385.00" x2="488.90" y2="1389.50" stroke="#a0a0a0" stroke-width="1.00"/>
<text class="sb" x="475.52" y="1412.50" font-size="16.50" textLength="22.44" lengthAdjust="spacingAndGlyphs" fill="#1a1a1a" stroke="#1a1a1a" stroke-width="0.35">800</text>
<line x1="566.75" y1="1385.00" x2="566.75" y2="1389.50" stroke="#a0a0a0" stroke-width="1.00"/>
<text class="sb" x="550.94" y="1412.50" font-size="16.50" textLength="29.92" lengthAdjust="spacingAndGlyphs" fill="#1a1a1a" stroke="#1a1a1a" stroke-width="0.35">1000</text>
<line x1="644.60" y1="1385.00" x2="644.60" y2="1389.50" stroke="#a0a0a0" stroke-width="1.00"/>
<text class="sb" x="625.94" y="1412.50" font-size="16.50" textLength="29.92" lengthAdjust="spacingAndGlyphs" fill="#1a1a1a" stroke="#1a1a1a" stroke-width="0.35">1200</text>
<line x1="722.45" y1="1385.00" x2="722.45" y2="1389.50" stroke="#a0a0a0" stroke-width="1.00"/>
<text class="sb" x="708.54" y="1412.50" font-size="16.50" textLength="29.92" lengthAdjust="spacingAndGlyphs" fill="#1a1a1a" stroke="#1a1a1a" stroke-width="0.35">1400</text>
<text class="sb" x="397.30" y="1439.70" font-size="16.00" textLength="101.92" lengthAdjust="spacingAndGlyphs" fill="#1a1a1a" stroke="#1a1a1a" stroke-width="0.35">Temperature, C</text>
<text class="sb" x="433.35" y="1458.90" font-size="16.50" textLength="18.12" lengthAdjust="spacingAndGlyphs" fill="#1a1a1a" stroke="#1a1a1a" stroke-width="0.35">(b)</text>
<text class="sb" transform="translate(118.90 1249.75) rotate(-90)" x="-0.00" y="0" font-size="16" textLength="57.51" lengthAdjust="spacingAndGlyphs" fill="#1a1a1a" stroke="#1a1a1a" stroke-width="0.35">K, W/mK</text>
<rect x="251.25" y="1331.69" width="8.30" height="8.10" fill="#2172b9" stroke="#14548f" stroke-width="0.90" stroke-linejoin="round"/>
<rect x="328.95" y="1279.15" width="8.30" height="8.10" fill="#2172b9" stroke="#14548f" stroke-width="0.90" stroke-linejoin="round"/>
<rect x="407.35" y="1226.60" width="8.30" height="8.10" fill="#2172b9" stroke="#14548f" stroke-width="0.90" stroke-linejoin="round"/>
<rect x="485.25" y="1174.06" width="8.30" height="8.10" fill="#2172b9" stroke="#14548f" stroke-width="0.90" stroke-linejoin="round"/>
<rect x="563.65" y="1121.51" width="8.30" height="8.10" fill="#2172b9" stroke="#14548f" stroke-width="0.90" stroke-linejoin="round"/>
<rect x="641.55" y="1068.97" width="8.30" height="8.10" fill="#2172b9" stroke="#14548f" stroke-width="0.90" stroke-linejoin="round"/>
<rect x="251.25" y="1298.85" width="8.30" height="8.10" fill="#a0b3df" stroke="#7d8db6" stroke-width="0.90" stroke-linejoin="round"/>
<rect x="328.95" y="1297.21" width="8.30" height="8.10" fill="#a0b3df" stroke="#7d8db6" stroke-width="0.90" stroke-linejoin="round"/>
<rect x="407.35" y="1290.97" width="8.30" height="8.10" fill="#a0b3df" stroke="#7d8db6" stroke-width="0.90" stroke-linejoin="round"/>
<rect x="485.25" y="1279.64" width="8.30" height="8.10" fill="#a0b3df" stroke="#7d8db6" stroke-width="0.90" stroke-linejoin="round"/>
<rect x="563.65" y="1259.28" width="8.30" height="8.10" fill="#a0b3df" stroke="#7d8db6" stroke-width="0.90" stroke-linejoin="round"/>
<rect x="641.55" y="1228.24" width="8.30" height="8.10" fill="#a0b3df" stroke="#7d8db6" stroke-width="0.90" stroke-linejoin="round"/>
<rect x="251.25" y="1298.85" width="8.30" height="8.10" fill="#86ab4e" stroke="#66863a" stroke-width="0.90" stroke-linejoin="round"/>
<rect x="328.95" y="1216.75" width="8.30" height="8.10" fill="#86ab4e" stroke="#66863a" stroke-width="0.90" stroke-linejoin="round"/>
<rect x="407.35" y="1175.70" width="8.30" height="8.10" fill="#86ab4e" stroke="#66863a" stroke-width="0.90" stroke-linejoin="round"/>
<rect x="485.25" y="1159.28" width="8.30" height="8.10" fill="#86ab4e" stroke="#66863a" stroke-width="0.90" stroke-linejoin="round"/>
<rect x="563.65" y="1134.65" width="8.30" height="8.10" fill="#86ab4e" stroke="#66863a" stroke-width="0.90" stroke-linejoin="round"/>
<rect x="641.55" y="1134.65" width="8.30" height="8.10" fill="#86ab4e" stroke="#66863a" stroke-width="0.90" stroke-linejoin="round"/>
<polygon points="255.40,1232.77 259.75,1241.67 251.05,1241.67" fill="#e4302f" stroke="#b02222" stroke-width="0.90" stroke-linejoin="round"/>
<polygon points="333.10,1224.56 337.45,1233.46 328.75,1233.46" fill="#e4302f" stroke="#b02222" stroke-width="0.90" stroke-linejoin="round"/>
<polygon points="411.50,1219.63 415.85,1228.53 407.15,1228.53" fill="#e4302f" stroke="#b02222" stroke-width="0.90" stroke-linejoin="round"/>
<polygon points="489.40,1208.14 493.75,1217.04 485.05,1217.04" fill="#e4302f" stroke="#b02222" stroke-width="0.90" stroke-linejoin="round"/>
<polygon points="567.80,1199.93 572.15,1208.83 563.45,1208.83" fill="#e4302f" stroke="#b02222" stroke-width="0.90" stroke-linejoin="round"/>
<polygon points="645.70,1191.72 650.05,1200.62 641.35,1200.62" fill="#e4302f" stroke="#b02222" stroke-width="0.90" stroke-linejoin="round"/>
<ellipse cx="255.40" cy="1204.38" rx="3.55" ry="3.55" fill="#2a9bbf" stroke="#18728f" stroke-width="0.90" stroke-linejoin="round"/>
<ellipse cx="333.10" cy="1204.38" rx="3.55" ry="3.55" fill="#2a9bbf" stroke="#18728f" stroke-width="0.90" stroke-linejoin="round"/>
<ellipse cx="411.50" cy="1204.38" rx="3.55" ry="3.55" fill="#2a9bbf" stroke="#18728f" stroke-width="0.90" stroke-linejoin="round"/>
<ellipse cx="489.40" cy="1204.38" rx="3.55" ry="3.55" fill="#2a9bbf" stroke="#18728f" stroke-width="0.90" stroke-linejoin="round"/>
<ellipse cx="567.80" cy="1204.38" rx="3.55" ry="3.55" fill="#2a9bbf" stroke="#18728f" stroke-width="0.90" stroke-linejoin="round"/>
<ellipse cx="645.70" cy="1204.38" rx="3.55" ry="3.55" fill="#2a9bbf" stroke="#18728f" stroke-width="0.90" stroke-linejoin="round"/>
<polygon points="255.40,1261.18 259.25,1269.08 251.55,1269.08" fill="#aa2e42" stroke="#761c2b" stroke-width="0.90" stroke-linejoin="round"/>
<polygon points="333.10,1249.69 336.95,1257.59 329.25,1257.59" fill="#aa2e42" stroke="#761c2b" stroke-width="0.90" stroke-linejoin="round"/>
<polygon points="411.50,1259.54 415.35,1267.44 407.65,1267.44" fill="#aa2e42" stroke="#761c2b" stroke-width="0.90" stroke-linejoin="round"/>
<polygon points="489.40,1238.20 493.25,1246.10 485.55,1246.10" fill="#aa2e42" stroke="#761c2b" stroke-width="0.90" stroke-linejoin="round"/>
<polygon points="567.80,1233.27 571.65,1241.17 563.95,1241.17" fill="#aa2e42" stroke="#761c2b" stroke-width="0.90" stroke-linejoin="round"/>
<polygon points="645.70,1229.99 649.55,1237.89 641.85,1237.89" fill="#aa2e42" stroke="#761c2b" stroke-width="0.90" stroke-linejoin="round"/>
<ellipse cx="255.40" cy="1294.69" rx="3.85" ry="3.75" fill="#ee8c33" stroke="#c06a1e" stroke-width="0.90" stroke-linejoin="round"/>
<ellipse cx="333.10" cy="1268.42" rx="3.85" ry="3.75" fill="#ee8c33" stroke="#c06a1e" stroke-width="0.90" stroke-linejoin="round"/>
<ellipse cx="411.50" cy="1220.80" rx="3.85" ry="3.75" fill="#ee8c33" stroke="#c06a1e" stroke-width="0.90" stroke-linejoin="round"/>
<ellipse cx="489.40" cy="1171.54" rx="3.85" ry="3.75" fill="#ee8c33" stroke="#c06a1e" stroke-width="0.90" stroke-linejoin="round"/>
<ellipse cx="567.80" cy="1155.12" rx="3.85" ry="3.75" fill="#ee8c33" stroke="#c06a1e" stroke-width="0.90" stroke-linejoin="round"/>
<ellipse cx="645.70" cy="1138.70" rx="3.85" ry="3.75" fill="#ee8c33" stroke="#c06a1e" stroke-width="0.90" stroke-linejoin="round"/>
<rect x="202.90" y="1058.80" width="91.40" height="137.40" fill="#ffffff" stroke="#7a7a7a" stroke-width="1"/>
<rect x="213.70" y="1065.65" width="7.80" height="6.10" fill="#2172b9" stroke="#14548f" stroke-width="0.90" stroke-linejoin="round"/>
<text class="sb" x="229.00" y="1074.50" font-size="16.00" textLength="54.00" lengthAdjust="spacingAndGlyphs" fill="#1a1a1a" stroke="#1a1a1a" stroke-width="0.35">Shell #1</text>
<rect x="214.55" y="1085.15" width="6.10" height="5.10" fill="#a0b3df" stroke="#7d8db6" stroke-width="0.90" stroke-linejoin="round"/>
<text class="sb" x="229.00" y="1093.50" font-size="16.00" textLength="54.00" lengthAdjust="spacingAndGlyphs" fill="#1a1a1a" stroke="#1a1a1a" stroke-width="0.35">Shell #2</text>
<rect x="213.70" y="1103.65" width="7.80" height="6.10" fill="#86ab4e" stroke="#66863a" stroke-width="0.90" stroke-linejoin="round"/>
<text class="sb" x="229.00" y="1112.50" font-size="16.00" textLength="54.00" lengthAdjust="spacingAndGlyphs" fill="#1a1a1a" stroke="#1a1a1a" stroke-width="0.35">Shell #3</text>
<polygon points="217.60,1122.15 221.65,1129.25 213.55,1129.25" fill="#e4302f" stroke="#b02222" stroke-width="0.90" stroke-linejoin="round"/>
<text class="sb" x="229.00" y="1131.50" font-size="16.00" textLength="54.00" lengthAdjust="spacingAndGlyphs" fill="#1a1a1a" stroke="#1a1a1a" stroke-width="0.35">Shell #4</text>
<ellipse cx="217.60" cy="1144.70" rx="3.55" ry="3.30" fill="#2a9bbf" stroke="#18728f" stroke-width="0.90" stroke-linejoin="round"/>
<text class="sb" x="229.00" y="1150.50" font-size="16.00" textLength="54.00" lengthAdjust="spacingAndGlyphs" fill="#1a1a1a" stroke="#1a1a1a" stroke-width="0.35">Shell #5</text>
<polygon points="217.60,1160.40 221.40,1167.00 213.80,1167.00" fill="#aa2e42" stroke="#761c2b" stroke-width="0.90" stroke-linejoin="round"/>
<text class="sb" x="229.00" y="1169.50" font-size="16.00" textLength="54.00" lengthAdjust="spacingAndGlyphs" fill="#1a1a1a" stroke="#1a1a1a" stroke-width="0.35">Shell #6</text>
<ellipse cx="217.60" cy="1182.70" rx="3.80" ry="3.30" fill="#ee8c33" stroke="#c06a1e" stroke-width="0.90" stroke-linejoin="round"/>
<text class="sb" x="229.00" y="1188.50" font-size="16.00" textLength="54.00" lengthAdjust="spacingAndGlyphs" fill="#1a1a1a" stroke="#1a1a1a" stroke-width="0.35">Shell #7</text>
<rect x="76.20" y="1483.10" width="687.10" height="60.80" fill="#636466"/>
<text class="sa" x="93.70" y="1509.70" font-size="16.50" textLength="619.96" lengthAdjust="spacingAndGlyphs" fill="#f2f2f2">Fig. 2. Graphs show (a) specifici heat capacity and (b) thermal conductivity values of studied</text>
<text class="sa" x="93.70" y="1528.30" font-size="16.50" textLength="276.34" lengthAdjust="spacingAndGlyphs" fill="#f2f2f2">shells determined by the inverse method.</text>
<text class="sb" x="78.00" y="1597.80" font-size="17.00" textLength="23.05" lengthAdjust="spacingAndGlyphs" fill="#231f20" stroke="#231f20" stroke-width="0.8">44</text>
<rect x="114.10" y="1581.50" width="1.30" height="19.70" fill="#231f20"/>
<text class="se" x="126.00" y="1597.80" font-size="19.00" textLength="162.54" lengthAdjust="spacingAndGlyphs" fill="#3c3a3b">MODERN CASTING</text>
<text class="sa" x="299.40" y="1597.50" font-size="15.70" textLength="97.50" lengthAdjust="spacingAndGlyphs" fill="#333132">January 2016</text>
</svg>
</body></html>
